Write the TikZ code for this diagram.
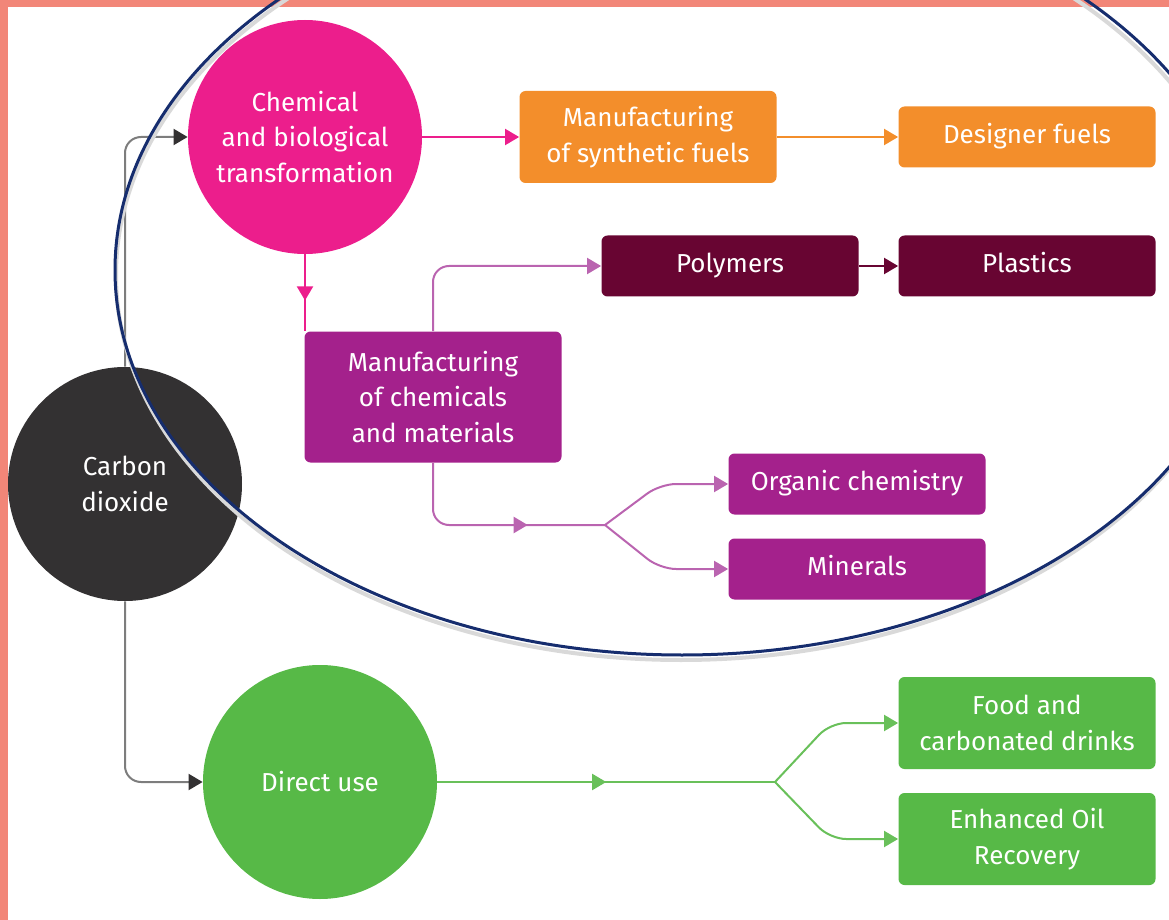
\documentclass[tikz,border=0pt]{standalone}
\usepackage{fontspec}
\setmainfont{Fira Sans}
\usetikzlibrary{arrows.meta,decorations.markings}

\definecolor{co2grey}{RGB}{51,49,50}
\definecolor{lineGrey}{RGB}{125,125,125}
\definecolor{chemPink}{RGB}{236,30,140}
\definecolor{fuelOrange}{RGB}{243,142,43}
\definecolor{polyMaroon}{RGB}{104,5,50}
\definecolor{matPurple}{RGB}{164,33,140}
\definecolor{matLine}{RGB}{186,100,176}
\definecolor{useGreen}{RGB}{87,185,71}
\definecolor{useLine}{RGB}{105,192,90}
\definecolor{ringNavy}{RGB}{22,45,110}
\definecolor{frameSalmon}{RGB}{242,134,120}

\begin{document}
\begin{tikzpicture}[x=0.5pt, y=-0.5pt,
    font=\fontsize{13}{17.8}\selectfont,
    blob/.style={circle, minimum size=117pt, inner sep=0pt, text=white, align=center},
    box/.style={rounded corners=3pt, minimum width=128.5pt, minimum height=30.5pt,
        inner sep=0pt, text=white, align=center},
    tall/.style={minimum height=46pt},
    oneline/.style={text height=1.45ex, text depth=0.3ex},
    link/.style={line width=1pt, rounded corners=8pt,
        -{Triangle[length=7pt,width=8pt]}},
    midtip/.style={postaction={decorate, decoration={markings,
        mark=at position #1 with {\arrow{Triangle[length=7pt,width=8pt]}}}}}]

    \useasboundingbox (0,0) rectangle (1169,920);
    \clip (0,0) rectangle (1169,920);

    % Frame
    \fill[frameSalmon] (0,0) rectangle (1169,7);
    \fill[frameSalmon] (0,0) rectangle (8,920);

    % Source
    \node[blob, fill=co2grey] (co2) at (125,484) {Carbon\\dioxide};

    % Chemical and biological route
    \node[blob, fill=chemPink] (chem) at (305,137) {Chemical\\and biological\\transformation};
    \node[box, tall, fill=fuelOrange] (synth) at (648,137) {Manufacturing\\of synthetic fuels};
    \node[box, oneline, fill=fuelOrange] (designer) at (1027,137) {Designer fuels};
    \node[box, fill=matPurple, minimum height=65.5pt] (mchem) at (433,397) {Manufacturing\\of chemicals\\and materials};
    \node[box, oneline, fill=polyMaroon] (poly) at (730,266) {Polymers};
    \node[box, oneline, fill=polyMaroon] (plastics) at (1027,266) {Plastics};
    \node[box, oneline, fill=matPurple] (organic) at (857,484) {Organic chemistry};
    \node[box, oneline, fill=matPurple] (minerals) at (857,569) {Minerals};

    % Direct use route
    \node[blob, fill=useGreen] (direct) at (320,782) {Direct use};
    \node[box, tall, fill=useGreen] (food) at (1027,723) {Food and\\carbonated drinks};
    \node[box, tall, fill=useGreen] (eor) at (1027,839) {Enhanced Oil\\Recovery};

    \coordinate (fork1) at (605,525);
    \coordinate (fork2) at (775,782);

    % Arrows
    \draw[link, lineGrey, -{Triangle[length=7pt,width=8pt,color=co2grey]}] (co2.north) |- (chem.west);
    \draw[link, lineGrey, -{Triangle[length=7pt,width=8pt,color=co2grey]}] (co2.south) |- (direct.west);

    \draw[link, chemPink] (chem.east) -- (synth.west);
    \draw[link, fuelOrange] (synth.east) -- (designer.west);
    \draw[line width=1pt, chemPink, midtip=0.6] (chem.south) -- (chem.south |- mchem.north);

    \draw[link, matLine] (mchem.north) |- (poly.west);
    \draw[link, polyMaroon] (poly.east) -- (plastics.west);
    \draw[line width=1pt, matLine, rounded corners=8pt, midtip=0.66] (mchem.south) |- (fork1);
    \draw[link, matLine] (fork1) -- ([xshift=-34pt]organic.west) -- (organic.west);
    \draw[link, matLine] (fork1) -- ([xshift=-34pt]minerals.west) -- (minerals.west);

    \draw[line width=1pt, useLine, midtip=0.5] (direct.east) -- (fork2);
    \draw[link, useLine] (fork2) -- ([xshift=-34pt]food.west) -- (food.west);
    \draw[link, useLine] (fork2) -- ([xshift=-34pt]eor.west) -- (eor.west);

    % Highlight ring
    \draw[black!15, line width=2pt] (681,275) ellipse [x radius=282.5pt, y radius=192.5pt];
    \draw[ringNavy, line width=1.5pt] (682,270) ellipse [x radius=283.5pt, y radius=192.5pt];
\end{tikzpicture}
\end{document}
